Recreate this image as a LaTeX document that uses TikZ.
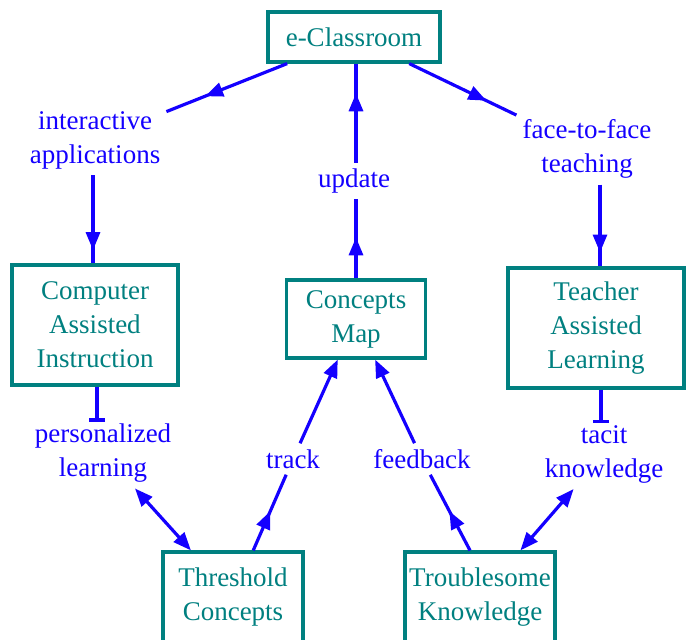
\documentclass[tikz,border=0pt]{standalone}
\usepackage{fontspec}
\setmainfont{Liberation Serif}
\usetikzlibrary{arrows.meta,decorations.markings}
\definecolor{conceptteal}{RGB}{0,128,128}
\definecolor{linkblue}{RGB}{20,0,255}
\begin{document}
\begin{tikzpicture}[x=1pt,y=-1pt,
  concept/.style={draw=conceptteal, line width=3.2pt, fill=white, text=conceptteal,
    align=center, font=\fontsize{27}{34}\selectfont, inner sep=0pt},
  phrase/.style={text=linkblue, align=center, font=\fontsize{27}{34}\selectfont, inner sep=6pt},
  link/.style={draw=linkblue, line width=3.2pt},
  arrowat/.style={postaction={decorate}, decoration={markings,
    mark=at position #1 with {\arrow{Triangle[length=18pt,width=14pt]}}}},
  tip/.style={-{Triangle[length=18pt,width=14pt]}},
  both/.style={{Triangle[length=18pt,width=14pt]}-{Triangle[length=18pt,width=14pt]}},
  tee/.style={-{Bar[width=16pt]}}
]
\useasboundingbox (0,0) rectangle (686,640);
\clip (0,0) rectangle (686,640);

% concepts
\node[concept, minimum width=172, minimum height=50] (ecl) at (354,37) {e-Classroom};
\node[concept, minimum width=166, minimum height=120] (cai) at (95,325) {Computer\\Assisted\\Instruction};
\node[concept, minimum width=139, minimum height=78] (cm) at (356,319) {Concepts\\Map};
\node[concept, minimum width=176, minimum height=120] (tal) at (596,328) {Teacher\\Assisted\\Learning};
\node[concept, minimum width=140, minimum height=90] (thr) at (233,597) {Threshold\\Concepts};
\node[concept, minimum width=150, minimum height=90] (trb) at (480,597) {Troublesome\\Knowledge};

% linking phrases
\node[phrase] (ia) at (95,140) {interactive\\applications};
\node[phrase] (upd) at (354,181) {update};
\node[phrase] (ftf) at (587,149) {face-to-face\\teaching};
\node[phrase] (pl) at (103,453) {personalized\\learning};
\node[phrase] (trk) at (293,459) {track};
\node[phrase] (fb) at (422,459) {feedback};
\node[phrase] (tk) at (604,454) {tacit\\knowledge};

% links
\draw[link, arrowat=0.68] (ecl) -- (ia);
\draw[link, arrowat=0.72] (ecl) -- (ftf);
\draw[link, arrowat=0.7] (upd.north -| cm.north) -- (ecl.south -| cm.north);
\draw[link, arrowat=0.52] (cm.north) -- (upd.south -| cm.north);
\draw[link, arrowat=0.85] ([xshift=-2]ia.south -| cai.north) -- ([xshift=-2]cai.north);
\draw[link, arrowat=0.83] ([xshift=4]ftf.south -| tal.north) -- ([xshift=4]tal.north);
\draw[link, tee] ([xshift=2]cai.south) -- ([xshift=2,yshift=-4]cai.south |- pl.north);
\draw[link, tee] ([xshift=5]tal.south) -- ([xshift=5,yshift=-4]tal.south |- tk.north);
\draw[link, both] (pl) -- (thr);
\draw[link, arrowat=0.52] (thr) -- (trk);
\draw[link, tip] (trk) -- (cm);
\draw[link, arrowat=0.52] ([xshift=-10]trb.north) -- (fb);
\draw[link, tip] (fb) -- (cm);
\draw[link, both] (trb) -- (tk);
\end{tikzpicture}
\end{document}
